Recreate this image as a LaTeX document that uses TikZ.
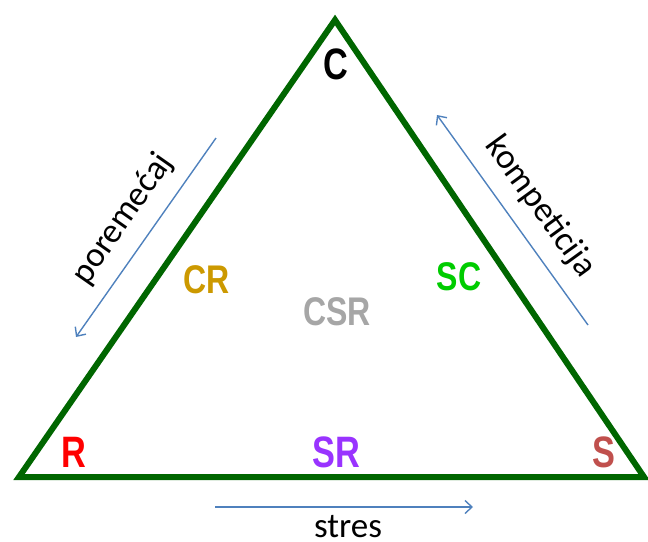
\documentclass[tikz,border=0pt]{standalone}
\usepackage{fontspec}
\setmainfont{Liberation Sans}
\newfontfamily\calib{Carlito}
\usetikzlibrary{arrows.meta}
\definecolor{trigreen}{RGB}{0,102,0}
\definecolor{arrblue}{RGB}{79,129,189}
\definecolor{crcol}{RGB}{204,153,0}
\definecolor{csrcol}{RGB}{166,166,166}
\definecolor{sccol}{RGB}{0,204,0}
\definecolor{rcol}{RGB}{255,0,0}
\definecolor{srcol}{RGB}{153,51,255}
\definecolor{scol}{RGB}{192,80,77}
\newcommand{\biglab}[1]{\scalebox{0.78}[1]{\fontsize{44}{44}\selectfont\bfseries #1}}
\newcommand{\midlab}[1]{\scalebox{0.8}[1]{\fontsize{40}{40}\selectfont\bfseries #1}}
\begin{document}
\begin{tikzpicture}[x=1pt,y=-1pt,
  tri/.style={draw=trigreen,line width=6pt,line join=miter},
  flow/.style={draw=arrblue,line width=1.4pt,-{Straight Barb[length=7pt,width=13pt,line width=1.4pt]}},
  lab/.style={anchor=base,inner sep=0pt},
  word/.style={inner sep=0pt,font=\calib\fontsize{35}{35}\selectfont}]
\useasboundingbox (0,0) rectangle (648,541);
\coordinate (A) at (335,20);
\coordinate (B) at (19,477);
\coordinate (D) at (644,477);
\draw[tri] (A) -- (B) -- (D) -- cycle;

\node[lab] (c) at (336,79) {\biglab{C}};
\node[lab,text=crcol] (cr) at (207,293) {\midlab{CR}};
\node[lab,text=csrcol] (csr) at (337,325) {\midlab{CSR}};
\node[lab,text=sccol] (sc) at (459,290) {\midlab{SC}};
\node[lab,text=rcol] (r) at (74,467) {\biglab{R}};
\node[lab,text=srcol] (sr) at (336,467) {\biglab{SR}};
\node[lab,text=scol] (s) at (604,467) {\biglab{S}};

\coordinate (p1) at (216,138);
\coordinate (p2) at (76,337);
\draw[flow] (p1) -- (p2);
\coordinate (k1) at (588,325);
\coordinate (k2) at (437,115);
\draw[flow] (k1) -- (k2);
\coordinate (s1) at (215,507);
\coordinate (s2) at (473,507);
\draw[flow] (s1) -- (s2);

\node[word,rotate=55] (por) at (123,219) {poremećaj};
\node[word,rotate=-54] (kom) at (540,207) {kompeticija};
\node[word,anchor=base] (str) at (348,537) {stres};
\end{tikzpicture}
\end{document}
